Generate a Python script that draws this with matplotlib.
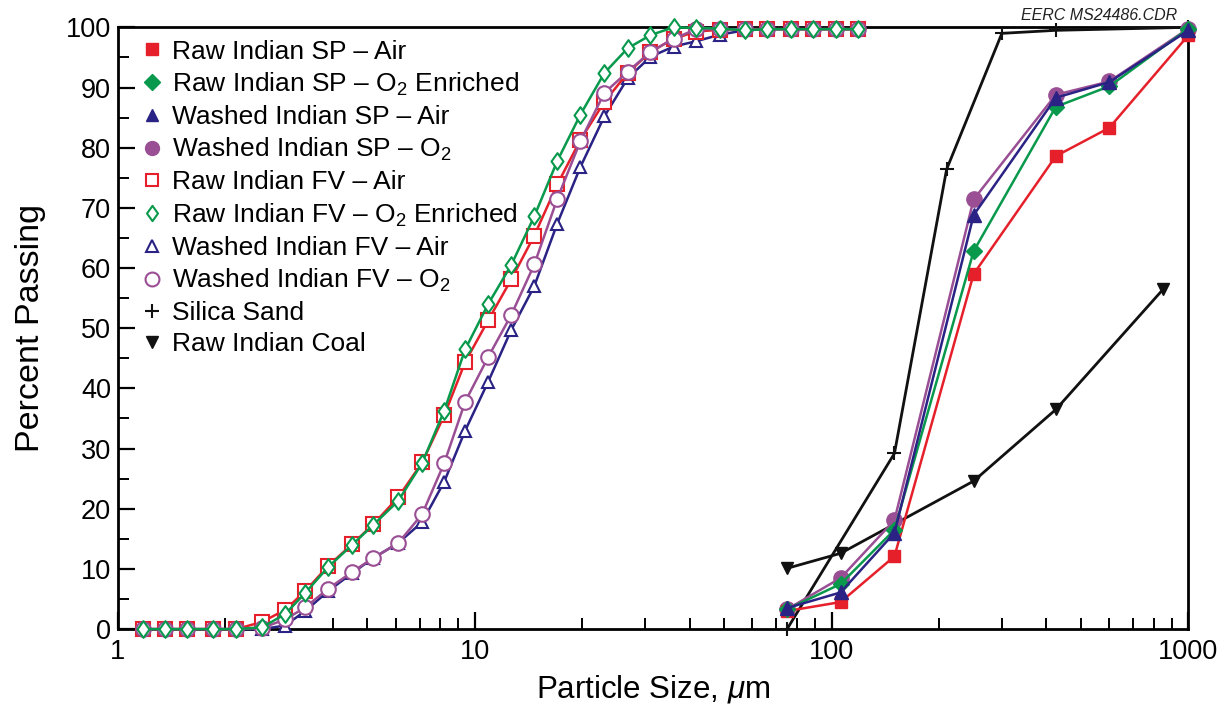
import matplotlib
matplotlib.use("Agg")
import matplotlib.pyplot as plt
from matplotlib.lines import Line2D
from matplotlib.path import Path
from matplotlib.ticker import LogLocator, FixedLocator, NullFormatter, MultipleLocator

plt.rcParams['font.family'] = ['Liberation Sans', 'DejaVu Sans']
plt.rcParams['mathtext.fontset'] = 'custom'
plt.rcParams['mathtext.rm'] = 'Liberation Sans'
plt.rcParams['mathtext.it'] = 'Liberation Sans:italic'

# ---- data ----
# fine (laser) size grid, micrometres
fine_size = [1.175, 1.354, 1.562, 1.847, 2.143, 2.535, 2.94, 3.346, 3.88, 4.53,
             5.19, 6.10, 7.12, 8.21, 9.40, 10.9, 12.65, 14.68, 17.03, 19.77,
             23.07, 26.8, 31.05, 36.05, 41.8, 48.8, 57.0, 65.7, 76.8, 88.5,
             102.6, 118.3]
raw_fv_air = [0, 0, 0, 0, 0, 1.2, 3.2, 6.3, 10.5, 14.1,
              17.4, 21.9, 27.7, 35.5, 44.4, 51.3, 58.1, 65.4, 73.9, 81.3,
              87.6, 92.4, 95.9, 98.1, 99.3, 99.6, 99.7, 99.7, 99.7, 99.7,
              99.7, 99.7]
raw_fv_o2 = [0, 0, 0, 0, 0, 0.3, 2.5, 6.0, 10.3, 14.0,
             17.3, 21.3, 27.6, 36.3, 46.5, 54.0, 60.5, 68.6, 77.8, 85.5,
             92.4, 96.5, 98.7, 100, 99.9, 99.8, 99.5, 99.7, 99.7, 99.7,
             99.7, 99.7]
washed_fv_air = [0, 0, 0, 0, 0, 0, 0.6, 3.0, 6.3, 9.3,
                 11.8, 14.3, 17.8, 24.5, 33.0, 41.1, 49.7, 57.0, 67.4, 76.8,
                 85.2, 91.5, 95.1, 96.8, 97.7, 98.8, 99.5, 99.7, 99.7, 99.7,
                 99.7, 99.7]
washed_fv_o2 = [0, 0, 0, 0, 0, 0.2, 1.6, 3.6, 6.7, 9.5,
                11.8, 14.3, 19.1, 27.6, 37.8, 45.2, 52.2, 60.6, 71.5, 81.1,
                89.1, 92.6, 95.9, 98.1, 99.7, 99.7, 99.7, 99.7, 99.7, 99.7,
                99.7, 99.7]

# coarse (sieve) size grid
sieve_size = [75, 106, 150, 250, 425, 600, 1000]
raw_sp_air = [3.0, 4.5, 12.1, 59.0, 78.6, 83.3, 98.7]
raw_sp_o2 = [3.3, 7.5, 16.5, 62.8, 86.8, 90.2, 99.8]
washed_sp_air = [3.5, 6.1, 16.0, 68.8, 88.3, 90.9, 99.5]
washed_sp_o2 = [3.3, 8.5, 18.1, 71.4, 88.8, 91.0, 99.8]

sand_size = [75, 150, 210, 300, 425, 1000]
silica_sand = [0, 29.2, 76.4, 99.0, 99.5, 100]

coal_size = [75, 106, 250, 425, 850]
raw_coal = [10.1, 12.6, 24.6, 36.5, 56.5]

labels = ['Raw Indian SP – Air', 'Raw Indian SP – O$_2$ Enriched',
          'Washed Indian SP – Air', 'Washed Indian SP – O$_2$',
          'Raw Indian FV – Air', 'Raw Indian FV – O$_2$ Enriched',
          'Washed Indian FV – Air', 'Washed Indian FV – O$_2$',
          'Silica Sand', 'Raw Indian Coal']

RED = '#e5202a'
GREEN = '#08994c'
NAVY = '#2a2284'
PURPLE = '#9a4f95'
BLACK = '#111111'

DIAMOND = Path([(0, 1), (0.72, 0), (0, -1), (-0.72, 0), (0, 1)],
               [Path.MOVETO, Path.LINETO, Path.LINETO, Path.LINETO, Path.CLOSEPOLY])

fig = plt.figure(figsize=(12.29, 7.19), dpi=100)
ax = fig.add_axes([0.096, 0.125, 0.871, 0.837])

lw = 1.8
common = dict(clip_on=False)
# fine series (open markers)
ax.plot(fine_size, washed_fv_air, color=NAVY, lw=lw, marker='^', ms=9, mfc='white', mec=NAVY, mew=1.5, zorder=3, **common)
ax.plot(fine_size, raw_fv_air, color=RED, lw=lw, marker='s', ms=9.5, mfc='white', mec=RED, mew=1.5, zorder=4, **common)
ax.plot(fine_size, raw_fv_o2, color=GREEN, lw=lw, marker=DIAMOND, ms=12, mfc='white', mec=GREEN, mew=1.5, zorder=5, **common)
ax.plot(fine_size, washed_fv_o2, color=PURPLE, lw=lw, marker='o', ms=10.5, mfc='white', mec=PURPLE, mew=1.5, zorder=4.5, **common)

# coarse series
ax.plot(sand_size, silica_sand, color=BLACK, lw=2, marker='+', ms=10, mew=1.5, zorder=3, **common)
ax.plot(coal_size, raw_coal, color=BLACK, lw=2, marker='v', ms=9, zorder=3)
ax.plot(sieve_size, raw_sp_air, color=RED, lw=lw, marker='s', ms=9, zorder=6, **common)
ax.plot(sieve_size, raw_sp_o2, color=GREEN, lw=lw, marker='D', ms=8, zorder=6, **common)
ax.plot(sieve_size, washed_sp_air, color=NAVY, lw=lw, marker='^', ms=10, zorder=6, **common)
ax.plot(sieve_size, washed_sp_o2, color=PURPLE, lw=lw, marker='o', ms=11, zorder=5.5, **common)

ax.set_xscale('log')
ax.set_xlim(1, 1000)
ax.set_ylim(0, 100)
ax.xaxis.set_major_locator(FixedLocator([1, 10, 100, 1000]))
ax.xaxis.set_minor_locator(LogLocator(base=10, subs=range(2, 10)))
ax.xaxis.set_minor_formatter(NullFormatter())
ax.set_xticklabels(['1', '10', '100', '1000'])
ax.yaxis.set_major_locator(MultipleLocator(10))
ax.yaxis.set_minor_locator(MultipleLocator(5))

for s in ax.spines.values():
    s.set_linewidth(2.0)
ax.tick_params(which='major', direction='in', length=12, width=1.6, labelsize=19.5, pad=5)
ax.tick_params(which='minor', direction='in', length=8, width=1.4)
ax.tick_params(axis='x', which='major', pad=7)

ax.set_xlabel('Particle Size, $\\mu$m', fontsize=22.5, labelpad=6)
ax.set_ylabel('Percent Passing', fontsize=24.5, labelpad=14)

handles = [
    Line2D([], [], ls='None', marker='s', ms=9, color=RED),
    Line2D([], [], ls='None', marker='D', ms=8, color=GREEN),
    Line2D([], [], ls='None', marker='^', ms=9, color=NAVY),
    Line2D([], [], ls='None', marker='o', ms=10, color=PURPLE),
    Line2D([], [], ls='None', marker='s', ms=9, mfc='white', mec=RED, mew=1.5),
    Line2D([], [], ls='None', marker=DIAMOND, ms=11, mfc='white', mec=GREEN, mew=1.5),
    Line2D([], [], ls='None', marker='^', ms=9, mfc='white', mec=NAVY, mew=1.5),
    Line2D([], [], ls='None', marker='o', ms=10, mfc='white', mec=PURPLE, mew=1.5),
    Line2D([], [], ls='None', marker='+', ms=10, mew=1.5, color=BLACK),
    Line2D([], [], ls='None', marker='v', ms=9, color=BLACK),
]
ax.legend(handles, labels, loc='upper left', bbox_to_anchor=(0.006, 1.006), frameon=False,
          fontsize=19, handlelength=0.9, handletextpad=0.3, labelspacing=0.27,
          borderaxespad=0.2)

fig.text(0.958, 0.968, 'EERC MS24486.CDR', ha='right', va='bottom', fontsize=11.5,
         style='italic', color='#222222')

fig.savefig('out.png', dpi=100)
